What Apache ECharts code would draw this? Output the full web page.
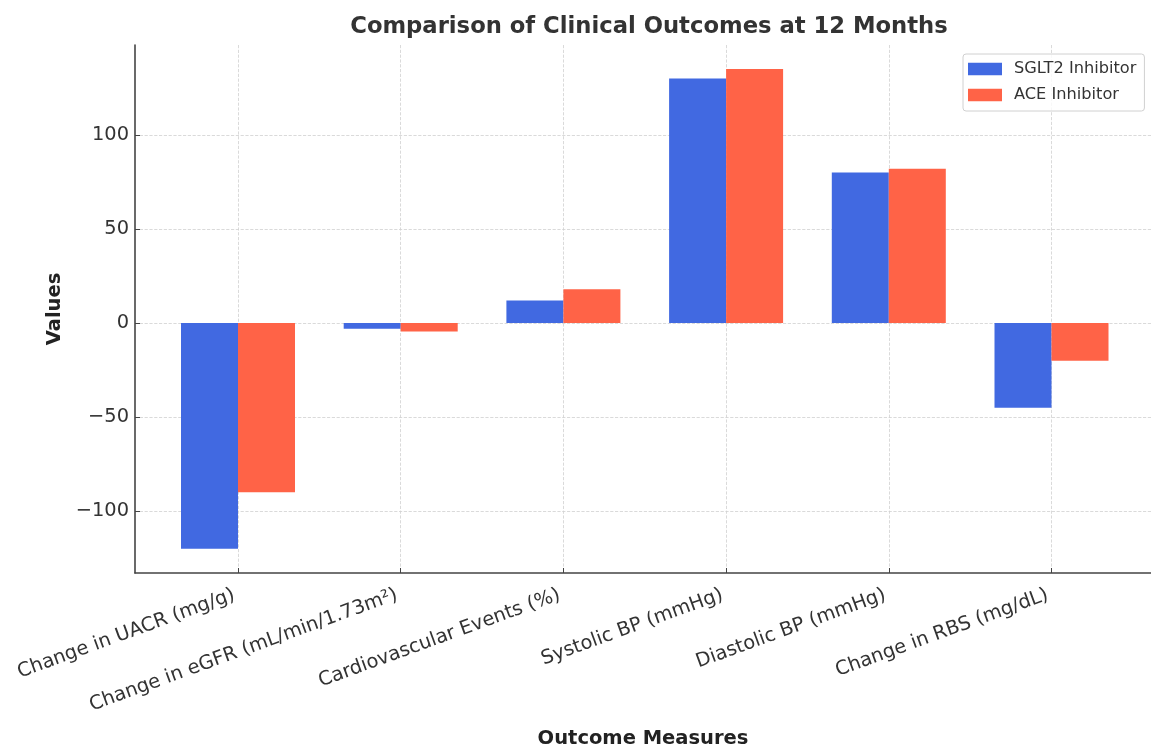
<!DOCTYPE html>
<html>
<head>
<meta charset="utf-8">
<script src="https://cdn.jsdelivr.net/npm/echarts@6/dist/echarts.min.js"></script>
<style>
html,body{margin:0;padding:0;background:#fff;}
#chart{width:1151px;height:752px;}
</style>
</head>
<body>
<div id="chart"></div>
<script>
var categories = ["Change in UACR (mg/g)", "Change in eGFR (mL/min/1.73m\u00b2)", "Cardiovascular Events (%)", "Systolic BP (mmHg)", "Diastolic BP (mmHg)", "Change in RBS (mg/dL)"];
var sglt2Values = [-120, -3, 12, 130, 80, -45];
var aceValues = [-90, -4.5, 18, 135, 82, -20];
var seriesNames = ["SGLT2 Inhibitor", "ACE Inhibitor"];
var yMin = -132.9, yMax = 147.8;

var FONT = "DejaVu Sans";
var chart = echarts.init(document.getElementById('chart'));
function fmt(v){ return v < 0 ? '\u2212' + Math.abs(v) : String(v); }
chart.setOption({
  backgroundColor: '#fff',
  animation: false,
  textStyle: { fontFamily: FONT },
  title: {
    text: 'Comparison of Clinical Outcomes at 12 Months',
    left: 644, top: 11, textAlign: 'center',
    textStyle: { fontFamily: FONT, fontSize: 22.7, fontWeight: 'bold', color: '#333' }
  },
  legend: {
    data: seriesNames,
    orient: 'vertical',
    left: 963, top: 54,
    padding: [7, 8, 8, 5],
    itemWidth: 34, itemHeight: 12.5, itemGap: 10,
    icon: 'rect',
    borderColor: '#d0d0d0', borderWidth: 1, borderRadius: 3,
    backgroundColor: 'rgba(255,255,255,0.8)',
    textStyle: { fontFamily: FONT, fontSize: 16.2, color: '#333', padding: [0, 0, 0, 7] }
  },
  grid: [
    { left: 135, right: 0, top: 45, bottom: 179, outerBoundsMode: 'none' },
    { left: 238, right: 99.5, top: 45, bottom: 179, outerBoundsMode: 'none' }
  ],
  xAxis: [
    {
      gridIndex: 0, type: 'value', min: 0, max: 1,
      axisLine: { show: true, onZero: false, lineStyle: { color: '#444', width: 1.6 } },
      axisTick: { show: false }, axisLabel: { show: false }, splitLine: { show: false },
      name: 'Outcome Measures', nameLocation: 'middle', nameGap: 156,
      nameTextStyle: { fontFamily: FONT, fontSize: 19.5, fontWeight: 'bold', color: '#222' }
    },
    {
      gridIndex: 1, type: 'category', data: categories, boundaryGap: false,
      axisLine: { show: false, onZero: false },
      axisTick: { show: true, inside: true, length: 5, lineStyle: { color: '#444' } },
      axisLabel: { rotate: 20, fontFamily: FONT, fontSize: 19.4, color: '#333', margin: 20, interval: 0, padding: [0, 4, 0, 0] },
      splitLine: { show: true, lineStyle: { color: '#d0d0d0', type: 'dashed', width: 0.8 } }
    }
  ],
  yAxis: [
    {
      gridIndex: 0, type: 'value', min: yMin, max: yMax,
      axisLine: { show: true, onZero: false, lineStyle: { color: '#444', width: 1.6 } },
      axisTick: { show: true, inside: true, length: 5, lineStyle: { color: '#444' } },
      axisLabel: { fontFamily: FONT, fontSize: 19.4, color: '#333', margin: 6, showMinLabel: false, showMaxLabel: false, formatter: fmt },
      splitLine: { show: true, showMinLine: false, showMaxLine: false, lineStyle: { color: '#d0d0d0', type: 'dashed', width: 0.8 } },
      name: 'Values', nameLocation: 'middle', nameGap: 67,
      nameTextStyle: { fontFamily: FONT, fontSize: 19.5, fontWeight: 'bold', color: '#222' }
    },
    {
      gridIndex: 1, type: 'value', min: yMin, max: yMax, show: false,
      splitLine: { show: false }
    }
  ],
  series: [
    {
      name: seriesNames[0], type: 'bar', xAxisIndex: 1, yAxisIndex: 1,
      data: sglt2Values, barWidth: 57, barGap: '0%', clip: false,
      itemStyle: { color: '#4169E1' }
    },
    {
      name: seriesNames[1], type: 'bar', xAxisIndex: 1, yAxisIndex: 1,
      data: aceValues, barWidth: 57, barGap: '0%', clip: false,
      itemStyle: { color: '#FF6347' }
    }
  ]
});
</script>
</body>
</html>
